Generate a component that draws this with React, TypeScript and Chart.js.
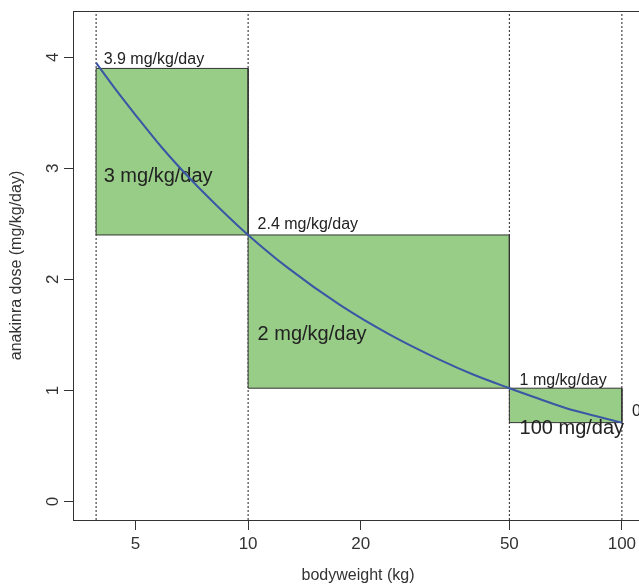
import React, { useEffect, useRef } from "react";
import { Chart, registerables } from "chart.js";

Chart.register(...registerables);

// ---- data ----
const xTicks = [5, 10, 20, 50, 100];
const yTicks = [0, 1, 2, 3, 4];
const xMin = 3.4;
const xMax = 113.9;
const yMin = -0.167;
const yMax = 4.417;

const curveWeight = [3.92, 4.4, 5, 5.87, 7.07, 8.33, 10, 12.7, 17.6, 24, 32.6, 40, 50, 60, 71, 85, 100];
const curveDose = [3.95, 3.72, 3.48, 3.19, 2.89, 2.65, 2.4, 2.11, 1.77, 1.5, 1.275, 1.143, 1.02, 0.925, 0.84, 0.77, 0.71];

const rectLeft = [3.92, 10, 50];
const rectRight = [10, 50, 100];
const rectTop = [3.9, 2.4, 1.02];
const rectBottom = [2.4, 1.02, 0.71];

const refLines = [3.92, 10, 50, 100];

const labelText = [
  "3.9 mg/kg/day",
  "3 mg/kg/day",
  "2.4 mg/kg/day",
  "2 mg/kg/day",
  "1 mg/kg/day",
  "100 mg/day",
  "0.7 mg/kg/day",
];
const labelX = [4.107, 4.107, 10.6, 10.6, 53.25, 53.25, 106.5];
const labelY = [3.98, 2.925, 2.49, 1.507, 1.091, 0.654, 0.81];
const labelBig = [false, true, false, true, false, true, false];

const xTitle = "bodyweight (kg)";
const yTitle = "anakinra dose (mg/kg/day)";

// ---- styles ----
const GREEN = "rgb(152, 205, 135)";
const BLUE = "rgb(58, 86, 165)";
const DARK = "#333333";
const FONT = '"Liberation Sans", Arial, Helvetica, sans-serif';
const CANVAS_W = 680;
const CANVAS_H = 584;

export default function App() {
  const ref = useRef<HTMLCanvasElement | null>(null);

  useEffect(() => {
    const canvas = ref.current;
    if (!canvas) return;

    const datasets: any[] = [];
    // 0: curve (drawn on top)
    datasets.push({
      data: curveWeight.map((w, i) => ({ x: w, y: curveDose[i] })),
      borderColor: BLUE,
      borderWidth: 2,
      pointRadius: 0,
      cubicInterpolationMode: "monotone",
      fill: false,
    });
    // 1..3: rectangle outlines
    rectLeft.forEach((x0, i) => {
      datasets.push({
        data: [
          { x: x0, y: rectBottom[i] },
          { x: x0, y: rectTop[i] },
          { x: rectRight[i], y: rectTop[i] },
          { x: rectRight[i], y: rectBottom[i] },
          { x: x0, y: rectBottom[i] },
        ],
        borderColor: DARK,
        borderWidth: 1,
        pointRadius: 0,
        fill: false,
      });
    });
    // rectangle fills (top edge filled to bottom edge)
    rectLeft.forEach((x0, i) => {
      datasets.push({
        data: [
          { x: x0, y: rectTop[i] },
          { x: rectRight[i], y: rectTop[i] },
        ],
        borderColor: "rgba(0,0,0,0)",
        borderWidth: 0,
        pointRadius: 0,
        backgroundColor: GREEN,
        fill: "+1",
      });
      datasets.push({
        data: [
          { x: x0, y: rectBottom[i] },
          { x: rectRight[i], y: rectBottom[i] },
        ],
        borderColor: "rgba(0,0,0,0)",
        borderWidth: 0,
        pointRadius: 0,
        fill: false,
      });
    });
    // dotted reference lines
    refLines.forEach((x) => {
      datasets.push({
        data: [
          { x, y: yMin },
          { x, y: yMax },
        ],
        borderColor: "#222",
        borderWidth: 1,
        borderDash: [2, 2],
        pointRadius: 0,
        fill: false,
      });
    });

    const decor = {
      id: "decor",
      afterDatasetDraw(chart: any, args: any) {
        if (args.index !== 1) return;
        const { ctx, scales } = chart;
        const xs = scales.x;
        const ys = scales.y;
        ctx.save();
        ctx.fillStyle = "#222";
        ctx.textBaseline = "middle";
        ctx.textAlign = "left";
        labelText.forEach((t, i) => {
          ctx.font = `${labelBig[i] ? 20 : 16}px ${FONT}`;
          ctx.fillText(t, xs.getPixelForValue(labelX[i]), ys.getPixelForValue(labelY[i]));
        });
        ctx.restore();
      },
      afterDraw(chart: any) {
        const { ctx, chartArea } = chart;
        ctx.save();
        ctx.strokeStyle = DARK;
        ctx.lineWidth = 1;
        ctx.strokeRect(
          Math.round(chartArea.left) + 0.5,
          Math.round(chartArea.top) + 0.5,
          Math.round(chartArea.right - chartArea.left),
          Math.round(chartArea.bottom - chartArea.top)
        );
        ctx.restore();
      },
    };

    const chart = new Chart(canvas, {
      type: "line",
      data: { datasets },
      plugins: [decor],
      options: {
        animation: false,
        responsive: false,
        devicePixelRatio: 1,
        layout: { padding: { left: 0, top: 11, right: CANVAS_W - 643, bottom: 0 } },
        plugins: { legend: { display: false }, tooltip: { enabled: false } },
        elements: { line: { tension: 0 } },
        scales: {
          x: {
            type: "logarithmic",
            min: xMin,
            max: xMax,
            bounds: "data",
            border: { display: false },
            grid: { display: true, drawOnChartArea: false, drawTicks: true, tickLength: 10, color: DARK, lineWidth: 1 },
            ticks: {
              autoSkip: false,
              maxRotation: 0,
              minRotation: 0,
              padding: 4,
              color: DARK,
              font: { family: FONT, size: 17 },
              callback: (v: any) => String(v),
            },
            afterBuildTicks: (s: any) => {
              s.ticks = xTicks.map((v) => ({ value: v }));
            },
            afterFit: (s: any) => {
              s.height = 64;
              s.paddingLeft = 0;
              s.paddingRight = 0;
            },
            title: {
              display: true,
              text: xTitle,
              color: DARK,
              font: { family: FONT, size: 16, lineHeight: 1 },
              padding: { top: 0, bottom: 0 },
            },
          },
          y: {
            type: "linear",
            min: yMin,
            max: yMax,
            bounds: "data",
            border: { display: false },
            grid: { display: true, drawOnChartArea: false, drawTicks: true, tickLength: 9, color: DARK, lineWidth: 1 },
            ticks: {
              autoSkip: false,
              minRotation: 90,
              maxRotation: 90,
              crossAlign: "center",
              padding: 6,
              color: DARK,
              font: { family: FONT, size: 17 },
              callback: (v: any) => String(v),
            },
            afterBuildTicks: (s: any) => {
              s.ticks = yTicks.map((v) => ({ value: v }));
            },
            afterFit: (s: any) => {
              s.width = 73;
              s.paddingTop = 0;
              s.paddingBottom = 0;
            },
            title: {
              display: true,
              text: yTitle,
              color: DARK,
              font: { family: FONT, size: 16 },
              padding: { top: 7.4, bottom: 0 },
            },
          },
        },
      } as any,
    });

    return () => chart.destroy();
  }, []);

  return (
    <div
      style={{
        position: "fixed",
        left: 0,
        top: 0,
        width: 639,
        height: 584,
        overflow: "hidden",
        background: "#ffffff",
      }}
    >
      <canvas
        ref={ref}
        width={CANVAS_W}
        height={CANVAS_H}
        style={{ display: "block", width: CANVAS_W, height: CANVAS_H }}
      />
    </div>
  );
}
